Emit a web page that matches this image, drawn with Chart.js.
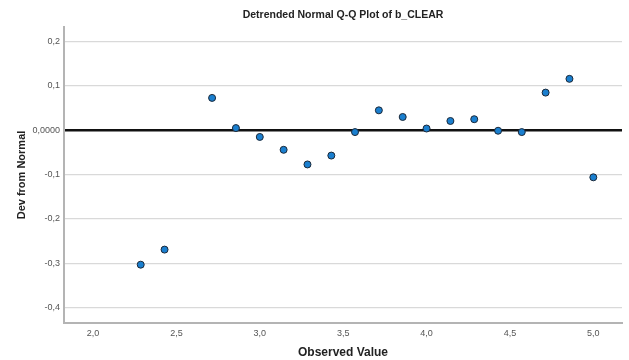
<!DOCTYPE html>
<html>
<head>
<meta charset="utf-8">
<script src="https://cdn.jsdelivr.net/npm/chart.js@4.4.1/dist/chart.umd.min.js"></script>
<style>
  html, body { margin: 0; padding: 0; background: #fff; }
  #wrap { width: 629px; height: 360px; }
</style>
</head>
<body>
<div id="wrap"><canvas id="qq" width="629" height="360"></canvas></div>
<script>
// ── 데이터 ──────────────────────────────────────────
const observed = [2.286, 2.429, 2.714, 2.857, 3.0, 3.143, 3.286, 3.429, 3.571, 3.714,
                  3.857, 4.0, 4.143, 4.286, 4.429, 4.571, 4.714, 4.857, 5.0];
const devFromNormal = [-0.303, -0.269, 0.073, 0.005, -0.015, -0.044, -0.077, -0.057, -0.004, 0.045,
                       0.030, 0.004, 0.021, 0.025, -0.001, -0.004, 0.085, 0.116, -0.106];

const xTicks = [2.0, 2.5, 3.0, 3.5, 4.0, 4.5, 5.0];
const xTickLabels = ["2,0", "2,5", "3,0", "3,5", "4,0", "4,5", "5,0"];
const yTicks = [-0.4, -0.3, -0.2, -0.1, 0, 0.1, 0.2];
const yTickLabels = ["-0,4", "-0,3", "-0,2", "-0,1", "0,0000", "0,1", "0,2"];

const xRange = [1.826, 5.172];
const yRange = [-0.4345, 0.2329];

const FONT = "'Liberation Sans', Arial, sans-serif";

// ── 차트 ────────────────────────────────────────────
new Chart(document.getElementById("qq").getContext("2d"), {
  type: "scatter",
  data: {
    datasets: [{
      data: observed.map((x, i) => ({ x, y: devFromNormal[i] })),
      pointRadius: 3.5,
      pointBackgroundColor: "#1a7fcf",
      pointBorderColor: "#1b2838",
      pointBorderWidth: 1,
    }],
  },
  options: {
    responsive: false,
    animation: false,
    layout: { padding: { right: 7, left: 0, bottom: 0 } },
    plugins: {
      legend: { display: false },
      tooltip: { enabled: false },
      title: {
        display: true,
        fullSize: false,
        text: "Detrended Normal Q-Q Plot of b_CLEAR",
        color: "#222",
        font: { family: FONT, size: 10.5, weight: "bold" },
        padding: { top: 9, bottom: 5.4 },
      },
    },
    scales: {
      x: {
        type: "linear",
        min: xRange[0],
        max: xRange[1],
        afterBuildTicks: s => { s.ticks = xTicks.map(v => ({ value: v })); },
        afterFit: s => { s.height = 37; },
        grid: { display: false, drawTicks: false },
        border: { display: true, color: "#b4b4b4", width: 2 },
        ticks: {
          padding: 5,
          color: "#555",
          font: { family: FONT, size: 9 },
          callback: v => xTickLabels[xTicks.indexOf(v)],
        },
        title: {
          display: true,
          text: "Observed Value",
          color: "#222",
          font: { family: FONT, size: 12, weight: "bold" },
          padding: { top: 0, bottom: 0 },
        },
      },
      y: {
        type: "linear",
        min: yRange[0],
        max: yRange[1],
        afterBuildTicks: s => { s.ticks = yTicks.map(v => ({ value: v })); },
        afterFit: s => { s.width = 64; },
        grid: {
          drawTicks: false,
          color: c => (c.tick && c.tick.value === 0 ? "#111" : "#d9d9d9"),
          lineWidth: c => (c.tick && c.tick.value === 0 ? 2.5 : 1.3),
        },
        border: { display: true, color: "#b4b4b4", width: 2 },
        ticks: {
          padding: 4,
          color: "#555",
          font: { family: FONT, size: 9 },
          callback: v => yTickLabels[yTicks.indexOf(v)],
        },
        title: {
          display: true,
          text: "Dev from Normal",
          color: "#222",
          font: { family: FONT, size: 11, weight: "bold" },
          padding: { top: 15, bottom: 0 },
        },
      },
    },
  },
});
</script>
</body>
</html>
